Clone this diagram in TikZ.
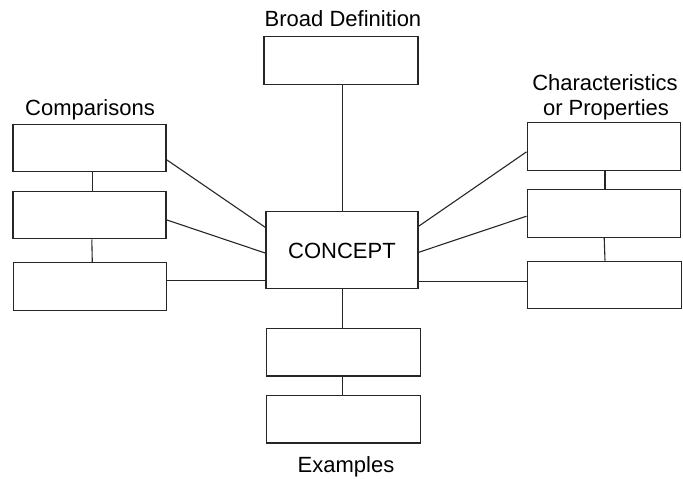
\documentclass[tikz,border=0pt]{standalone}
\usepackage{fontspec}
\setmainfont{Liberation Sans}
\usetikzlibrary{calc}
\begin{document}
\begin{tikzpicture}[x=1pt,y=-1pt,
  box/.style={draw=black!85,line width=1.1pt,minimum width=153pt,minimum height=47.6pt,inner sep=0pt},
  conn/.style={draw=black!85,line width=1.1pt},
  lbl/.style={font=\fontsize{22}{26}\selectfont,anchor=base,inner sep=0pt}]
\useasboundingbox (0,0) rectangle (683,479);
% boxes
\node[box,minimum width=152pt,minimum height=76.6pt] (concept) at (342,250) {};
\node[lbl] (ctext) at (342,258) {CONCEPT};
\node[box,minimum width=154pt] (bd) at (341,60.5) {};
\node[box] (c1) at (89.5,148) {};
\node[box] (c2) at (89.5,215) {};
\node[box] (c3) at (90,286.7) {};
\node[box,minimum width=153.5pt] (p1) at (603.8,146.5) {};
\node[box,minimum width=153.5pt] (p2) at (603.8,213.3) {};
\node[box,minimum width=153.5pt] (p3) at (604.6,285) {};
\node[box,minimum width=153.6pt] (e1) at (343.5,352.2) {};
\node[box,minimum width=153.6pt] (e2) at (343.5,419.2) {};
% labels
\node[lbl] (lbd) at (343,26.7) {Broad Definition};
\node[lbl] (lcmp) at (90,115) {Comparisons};
\node[lbl] (lch1) at (605,90) {Characteristics};
\node[lbl] (lch2) at (606,115) {or Properties};
\node[lbl] (lex) at (346,472.7) {Examples};
% anchor points
\coordinate (c3r) at ($(c3.north east)!0.38!(c3.south east)$);
\coordinate (p3l) at ($(p3.north west)!0.42!(p3.south west)$);
% connectors
\draw[conn] ([xshift=0.7pt]concept.north) -- ([xshift=0.7pt]concept.north |- bd.south);
\draw[conn] ([xshift=0.7pt]concept.south) -- ([xshift=0.7pt]concept.south |- e1.north);
\draw[conn] ([xshift=-0.8pt]e1.south) -- ([xshift=-0.8pt]e2.north);
\draw[conn] ([xshift=2.8pt]c1.south) -- ([xshift=2.8pt]c2.north);
\draw[conn] ([xshift=2.3pt]c2.south) -- ([xshift=2.3pt]c3.north);
\draw[conn] ([xshift=1.2pt]p1.south) -- ([xshift=1.2pt]p2.north);
\draw[conn] ([xshift=0.4pt]p2.south) -- ([xshift=0.4pt]p3.north);
\draw[conn] ($(c1.north east)!0.74!(c1.south east)$) -- ($(concept.north west)!0.21!(concept.south west)$);
\draw[conn] ($(c2.north east)!0.6!(c2.south east)$) -- ($(concept.north west)!0.54!(concept.south west)$);
\draw[conn] (c3r) -- (c3r -| concept.west);
\draw[conn] ($(p1.north west)!0.61!(p1.south west)$) -- ($(concept.north east)!0.195!(concept.south east)$);
\draw[conn] ($(p2.north west)!0.56!(p2.south west)$) -- ($(concept.north east)!0.53!(concept.south east)$);
\draw[conn] (p3l) -- (p3l -| concept.east);
\end{tikzpicture}
\end{document}
